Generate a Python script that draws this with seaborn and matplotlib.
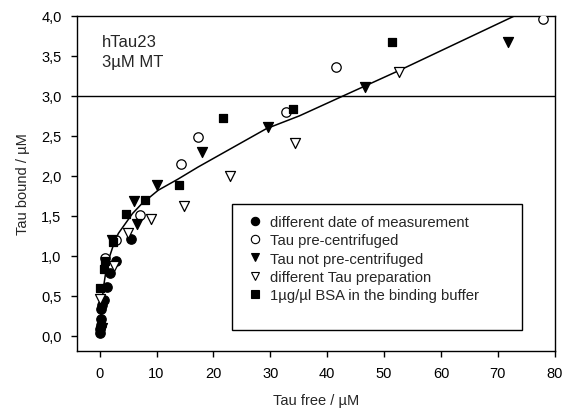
import numpy as np
import pandas as pd
import matplotlib
matplotlib.use("Agg")
import matplotlib.pyplot as plt
from matplotlib.lines import Line2D
from matplotlib.patches import Rectangle
from matplotlib.ticker import FuncFormatter
import seaborn as sns

# --- data (Tau free / uM, Tau bound / uM) ---
date_x = [0.0, 0.1, 0.2, 0.2, 0.3, 0.4, 0.8, 1.3, 1.9, 2.9, 5.6]
date_y = [0.03, 0.08, 0.14, 0.21, 0.33, 0.38, 0.45, 0.61, 0.79, 0.94, 1.21]

precent_x = [0.9, 2.9, 7.1, 14.3, 17.3, 32.8, 41.5, 77.9]
precent_y = [0.97, 1.20, 1.51, 2.15, 2.48, 2.80, 3.36, 3.96]

notcent_x = [0.3, 0.5, 2.1, 6.0, 6.6, 10.1, 18.0, 29.6, 46.6, 71.8]
notcent_y = [0.06, 0.10, 1.20, 1.68, 1.40, 1.88, 2.30, 2.61, 3.11, 3.68]

prep_x = [0.0, 2.6, 5.0, 9.1, 14.8, 23.0, 34.4, 52.7]
prep_y = [0.46, 0.87, 1.28, 1.46, 1.62, 2.00, 2.41, 3.30]

bsa_x = [0.1, 0.8, 0.9, 2.4, 4.6, 8.0, 13.9, 21.7, 34.0, 51.3]
bsa_y = [0.60, 0.83, 0.93, 1.17, 1.52, 1.70, 1.89, 2.72, 2.84, 3.67]

# fitted binding curve
fit_x = [0.0, 0.3, 0.65, 1.2, 1.8, 2.5, 3.3, 4.5, 5.8, 7.4, 10.3, 13.8, 17.3, 29.3, 35.1, 42.8, 52.7, 72.9]
fit_y = [0.0, 0.30, 0.59, 0.85, 1.00, 1.15, 1.28, 1.40, 1.53, 1.65, 1.82, 1.96, 2.11, 2.59, 2.75, 3.00, 3.32, 4.00]

labels = ["different date of measurement", "Tau pre-centrifuged", "Tau not pre-centrifuged",
          "different Tau preparation", "1µg/µl BSA in the binding buffer"]

groups = [
    (date_x, date_y, "o", "black", 46),
    (precent_x, precent_y, "o", "white", 46),
    (notcent_x, notcent_y, "v", "black", 52),
    (prep_x, prep_y, "v", "white", 52),
    (bsa_x, bsa_y, "s", "black", 40),
]

sns.set_style("ticks")
plt.rcParams['font.family'] = ['Liberation Sans', 'DejaVu Sans']
plt.rcParams['font.size'] = 10.5

fig, ax = plt.subplots(figsize=(5.65, 4.14), dpi=100)
fig.subplots_adjust(left=0.136, right=0.982, top=0.959, bottom=0.150)

fit_df = pd.DataFrame({"x": fit_x, "y": fit_y})
sns.lineplot(data=fit_df, x="x", y="y", sort=False, estimator=None, color="black", lw=1.1, ax=ax)

for (gx, gy, m, fc, s), lab in zip(groups, labels):
    df = pd.DataFrame({"x": gx, "y": gy})
    sns.scatterplot(data=df, x="x", y="y", marker=m, s=s, facecolor=fc,
                    edgecolor="black", linewidth=0.9, ax=ax, zorder=3)

ax.axhline(3.0, color="black", lw=1)

ax.set_xlim(-4, 80)
ax.set_ylim(-0.19, 4.0)
ax.set_xticks(np.arange(0, 81, 10))
ax.set_yticks(np.arange(0, 4.01, 0.5))
ax.yaxis.set_major_formatter(FuncFormatter(lambda v, p: f"{v:.1f}".replace(".", ",")))
ax.tick_params(direction="out", length=4, width=1, colors="black", labelsize=10.5)
ax.tick_params(axis="x", pad=7)
ax.tick_params(axis="y", pad=7)
for sp in ax.spines.values():
    sp.set_visible(True)
    sp.set_color("black")
    sp.set_linewidth(1)

ax.set_xlabel("Tau free / µM", fontsize=10.5, labelpad=9)
ax.set_ylabel("Tau bound / µM", fontsize=10.5, labelpad=8)

ax.text(0.052, 0.945, "hTau23\n3µM MT", transform=ax.transAxes, ha="left", va="top",
        fontsize=12, linespacing=1.4)

# legend box (drawn separately, the entries sit near its top)
ax.add_patch(Rectangle((0.324, 0.063), 0.607, 0.376, transform=ax.transAxes,
                       facecolor="white", edgecolor="black", lw=1, zorder=4))
handles = [Line2D([], [], marker=m, ls="", markerfacecolor=fc, markeredgecolor="black",
                  markersize=6, markeredgewidth=0.8) for (_, _, m, fc, _) in groups]
leg = ax.legend(handles, labels, loc="upper left", bbox_to_anchor=(0.366, 0.405),
                frameon=False, fontsize=10.7, handlelength=0.5, handletextpad=0.7,
                borderpad=0, labelspacing=0.28, borderaxespad=0)
leg.set_zorder(5)

plt.savefig("out.png", dpi=100)
